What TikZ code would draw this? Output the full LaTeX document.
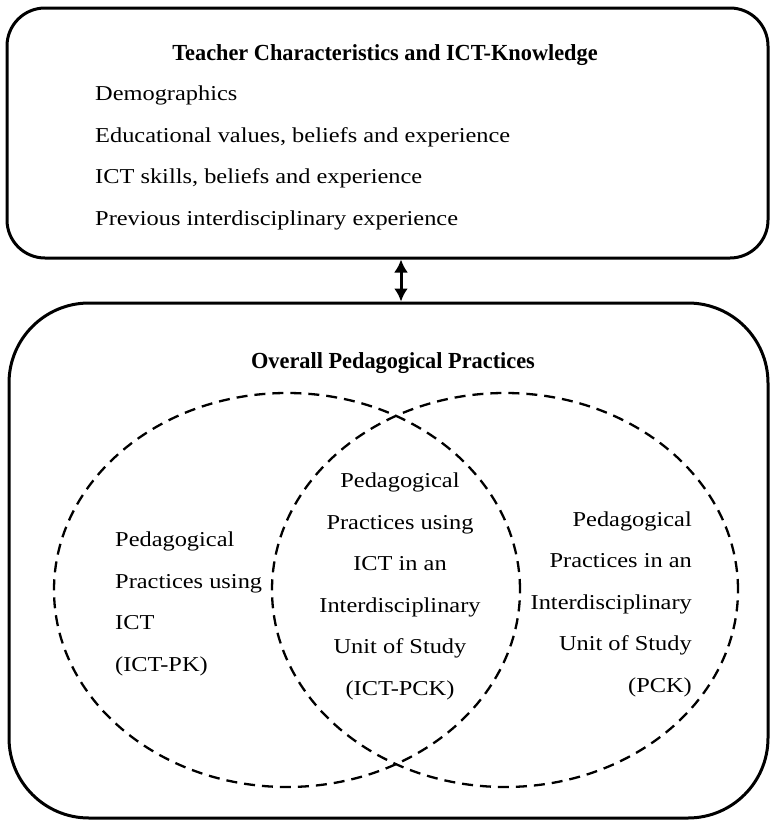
\documentclass[tikz,border=0pt]{standalone}
\usepackage{fontspec}
\setmainfont{Liberation Serif}
\newfontfamily\bodyfont[FakeStretch=1.15]{Liberation Serif}
\newfontfamily\headfont[FakeStretch=0.97]{Liberation Serif}
\usetikzlibrary{shapes.geometric, arrows.meta, positioning, calc}

\begin{document}
\begin{tikzpicture}[x=1pt, y=-1pt,
    panel/.style={draw, rectangle, line width=3pt, inner sep=0pt},
    zone/.style={draw, ellipse, line width=2.3pt, dash pattern=on 11pt off 7pt, minimum width=466pt, minimum height=394pt, inner sep=0pt},
    head/.style={font={\headfont\bfseries\fontsize{23}{27}\selectfont}, inner sep=0pt, anchor=base},
    body/.style={font={\bodyfont\fontsize{21.2}{41.5}\selectfont}, inner sep=0pt}]
\useasboundingbox (0,0) rectangle (770,822);

% Boxes
\node[panel, rounded corners=38pt, minimum width=761pt, minimum height=250pt] (teacher) at (387.5,133) {};
\node[panel, rounded corners=80pt, minimum width=759pt, minimum height=515pt] (overall) at (388.5,560.5) {};

% Venn
\node[zone] (ictpk) at (287,590) {};
\node[zone] (pck) at (505,590) {};

% Teacher side (anchored on the last line)
\node[head] (teacher-title) at (385,60) {Teacher Characteristics and ICT-Knowledge};
\node[body, align=left, anchor=base west] (teacher-list) at (95,225) {Demographics\\Educational values, beliefs and experience\\ICT skills, beliefs and experience\\Previous interdisciplinary experience};

% Practices side
\node[head] (overall-title) at (393,368) {Overall Pedagogical Practices};
\node[body, align=left, anchor=base west] (ictpk-text) at (115,671) {Pedagogical\\Practices using\\ICT\\(ICT-PK)};
\node[body, align=center, anchor=base] (ictpck-text) at (400,695) {Pedagogical\\Practices using\\ICT in an\\Interdisciplinary\\Unit of Study\\(ICT-PCK)};
\node[body, align=right, anchor=base east] (pck-text) at (692,692) {Pedagogical\\Practices in an\\Interdisciplinary\\Unit of Study\\(PCK)};

% Link
\coordinate (link) at (401,280);
\draw[line width=3pt, {Latex[length=13pt,width=14pt]}-{Latex[length=13pt,width=14pt]}] (link |- teacher.south) -- (link |- overall.north);
\end{tikzpicture}
\end{document}
